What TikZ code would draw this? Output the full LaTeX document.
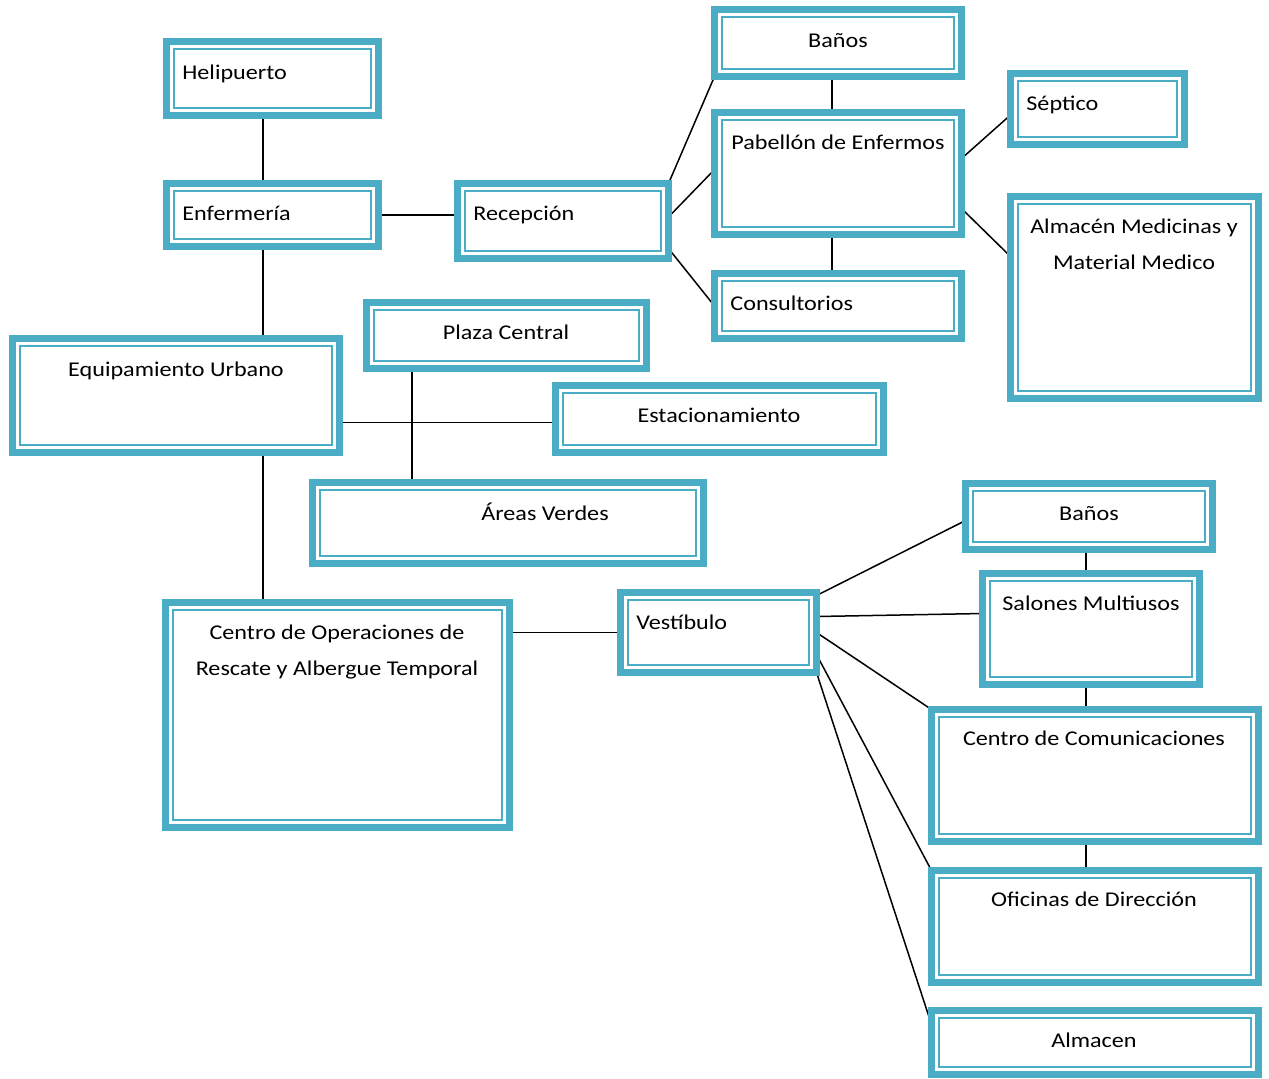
\documentclass[tikz,border=0pt]{standalone}
\usepackage{fontspec}
\setmainfont{Carlito}[FakeStretch=1.15]
\usepackage{tikz}
\usetikzlibrary{
  positioning,
  calc,
  fit,
  backgrounds,
}
\definecolor{salaborde}{HTML}{4BACC6}

\tikzset{
  sala/.style={draw=salaborde, line width=3.5pt, fill=white, inner sep=0pt, outer sep=0pt,
    path picture={\draw[salaborde, line width=1pt]
      ([shift={(3.75pt,-3.75pt)}]path picture bounding box.north west) rectangle
      ([shift={(-3.75pt,3.75pt)}]path picture bounding box.south east);}},
  rotulo/.style={font=\fontsize{10.5}{18}\selectfont, inner sep=0pt, align=center},
  enlace/.style={line width=0.75pt, black},
}

\begin{document}
\begin{tikzpicture}[x=0.5pt, y=-0.5pt]
  \useasboundingbox (0,0) rectangle (1269,1078);
  % zona de salud
  \node[sala, fit={(166.5,41.5) (378.5,115.5)}] (helipuerto) {};
  \node[sala, fit={(166.5,183.5) (378.5,246.5)}] (enfermeria) {};
  \node[sala, fit={(457.5,183.5) (668.5,258.5)}] (recepcion) {};
  \node[sala, fit={(714.5,9.5) (961.5,76.5)}] (banos) {};
  \node[sala, fit={(714.5,112.5) (961.5,234.5)}] (pabellon) {};
  \node[sala, fit={(714.5,273.5) (961.5,338.5)}] (consultorios) {};
  \node[sala, fit={(1010.5,73.5) (1184.5,144.5)}] (septico) {};
  \node[sala, fit={(1010.5,196.5) (1258.5,398.5)}] (almacenmed) {};
  % equipamiento urbano
  \node[sala, fit={(366.5,302.5) (646.5,368.5)}] (plaza) {};
  \node[sala, fit={(12.5,338.5) (339.5,452.5)}] (equipamiento) {};
  \node[sala, fit={(555.5,385.5) (883.5,452.5)}] (estacionamiento) {};
  \node[sala, fit={(312.5,482.5) (703.5,563.5)}] (areas) {};
  % centro de operaciones
  \node[sala, fit={(165.5,602.5) (509.5,827.5)}] (centroops) {};
  \node[sala, fit={(620.5,592.5) (816.5,672.5)}] (vestibulo) {};
  \node[sala, fit={(965.5,483.5) (1212.5,549.5)}] (banosdos) {};
  \node[sala, fit={(982.5,573.5) (1199.5,684.5)}] (salones) {};
  \node[sala, fit={(931.5,709.5) (1258.5,841.5)}] (comunicaciones) {};
  \node[sala, fit={(931.5,870.5) (1258.5,982.5)}] (oficinas) {};
  \node[sala, fit={(931.5,1010.5) (1258.5,1074.5)}] (almacen) {};

  % rotulos
  \node[rotulo, anchor=base west] (t-helipuerto) at (182,79) {Helipuerto};
  \node[rotulo, anchor=base west] (t-enfermeria) at (182,220) {Enfermería};
  \node[rotulo, anchor=base west] (t-recepcion) at (473,220) {Recepción};
  \node[rotulo, anchor=base] (t-banos) at (838,47) {Baños};
  \node[rotulo, anchor=base] (t-pabellon) at (838,149) {Pabellón de Enfermos};
  \node[rotulo, anchor=base west] (t-consultorios) at (730,310) {Consultorios};
  \node[rotulo, anchor=base west] (t-septico) at (1026,110) {Séptico};
  \node[rotulo, anchor=base] (t-almacenmed) at (1134,269) {Almacén Medicinas y\\Material Medico};
  \node[rotulo, anchor=base] (t-plaza) at (506,339) {Plaza Central};
  \node[rotulo, anchor=base] (t-equipamiento) at (176,376) {Equipamiento Urbano};
  \node[rotulo, anchor=base] (t-estacionamiento) at (719,422) {Estacionamiento};
  \node[rotulo, anchor=base] (t-areas) at (545,520) {Áreas Verdes};
  \node[rotulo, anchor=base] (t-centroops) at (337,675) {Centro de Operaciones de\\Rescate y Albergue Temporal};
  \node[rotulo, anchor=base west] (t-vestibulo) at (636,629) {Vestíbulo};
  \node[rotulo, anchor=base] (t-banosdos) at (1089,520) {Baños};
  \node[rotulo, anchor=base] (t-salones) at (1091,610) {Salones Multiusos};
  \node[rotulo, anchor=base] (t-comunicaciones) at (1094,745) {Centro de Comunicaciones};
  \node[rotulo, anchor=base] (t-oficinas) at (1094,906) {Oficinas de Dirección};
  \node[rotulo, anchor=base] (t-almacen) at (1094,1047) {Almacen};

  % ejes de las lineas rectas
  \coordinate (ejeA) at ($(enfermeria.south)+(-9.5,0)$);
  \coordinate (ejeB) at ($(plaza.south west)+(45.5,0)$);
  \coordinate (ejeC) at ($(centroops.north east)+(0,30)$);
  \coordinate (ejeD) at ($(equipamiento.south east)+(0,-30)$);
  \coordinate (ejeE) at ($(banosdos.south)+(-3,0)$);

  % conexiones
  \begin{scope}[on background layer]
    \draw[enlace] ($(helipuerto.south)+(-9.5,0)$) -- (ejeA |- enfermeria.north);
    \draw[enlace] (ejeA) -- (ejeA |- equipamiento.north);
    \draw[enlace] (ejeA |- equipamiento.south) -- (ejeA |- centroops.north);
    \draw[enlace] (enfermeria.east) -- (enfermeria.east -| recepcion.west);
    \draw[enlace] (recepcion.north east) -- (banos.south west);
    \draw[enlace] ($(recepcion.east)+(0,-4)$) -- ($(pabellon.west)+(0,-4)$);
    \draw[enlace] ($(recepcion.south east)+(0,-10)$) -- (consultorios.west);
    \draw[enlace] ($(banos.south)+(-6,0)$) -- ($(pabellon.north)+(-6,0)$);
    \draw[enlace] ($(pabellon.south)+(-6,0)$) -- ($(consultorios.north)+(-6,0)$);
    \draw[enlace] ($(pabellon.east)+(0,-15)$) -- ($(septico.west)+(0,6)$);
    \draw[enlace] ($(pabellon.south east)+(0,-26)$) -- ($(almacenmed.north west)+(0,60)$);
    \draw[enlace] (ejeD) -- (ejeD -| estacionamiento.west);
    \draw[enlace] (ejeB) -- (ejeB |- areas.north);
    \draw[enlace] (ejeC) -- (ejeC -| vestibulo.west);
    \draw[enlace] ($(vestibulo.north east)+(0,3)$) -- ($(banosdos.west)+(0,4)$);
    \draw[enlace] ($(vestibulo.north east)+(0,24)$) -- ($(salones.north west)+(0,40)$);
    \draw[enlace] ($(vestibulo.north east)+(0,40)$) -- (comunicaciones.north west);
    \draw[enlace] ($(vestibulo.north east)+(0,62)$) -- (oficinas.north west);
    \draw[enlace] (vestibulo.south east) -- ($(almacen.north west)+(0,14)$);
    \draw[enlace] (ejeE) -- (ejeE |- salones.north);
    \draw[enlace] (ejeE |- salones.south) -- (ejeE |- comunicaciones.north);
    \draw[enlace] (ejeE |- comunicaciones.south) -- (ejeE |- oficinas.north);
  \end{scope}
\end{tikzpicture}
\end{document}
